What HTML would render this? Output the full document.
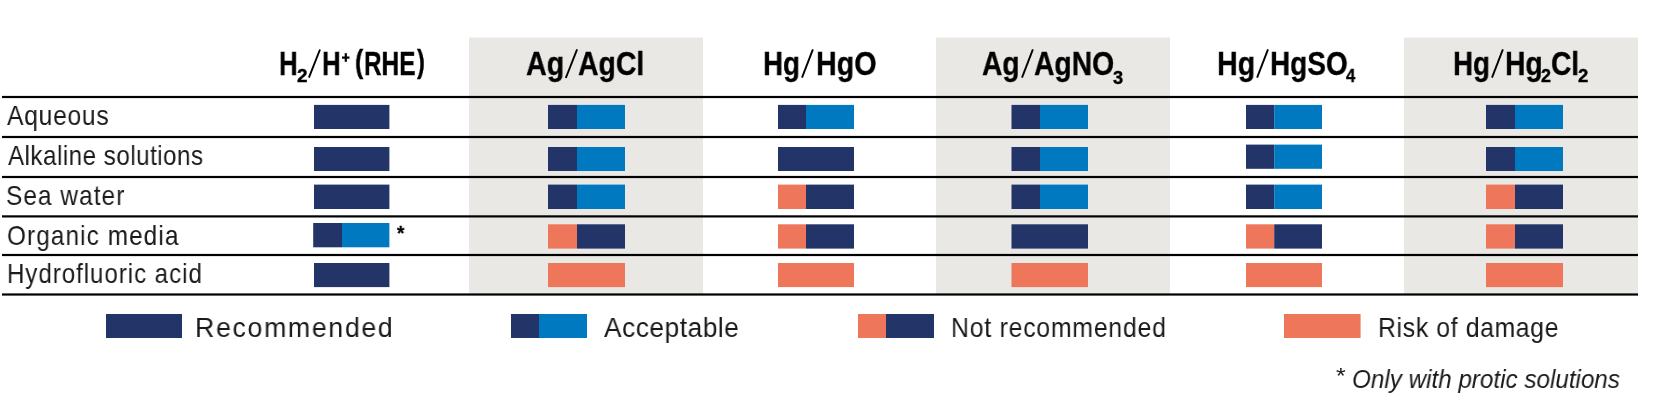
<!DOCTYPE html>
<html><head><meta charset="utf-8"><style>
html,body{margin:0;padding:0;background:#fff;width:1655px;height:402px;overflow:hidden;position:relative}
.r{position:absolute}
.ov{position:absolute;left:0;top:0}
.t{position:absolute;will-change:transform;line-height:0;white-space:nowrap;font-family:"Liberation Sans",sans-serif;color:#000;transform-origin:0 0}
</style></head><body>
<svg class="ov" width="1655" height="402" viewBox="0 0 1655 402"><rect x="469" y="37.6" width="234.00" height="256.40" fill="#e9e8e4"/><rect x="936" y="37.6" width="234.00" height="256.40" fill="#e9e8e4"/><rect x="1404" y="37.6" width="234.00" height="256.40" fill="#e9e8e4"/><rect x="2" y="95.9" width="1636.00" height="2.20" fill="#000"/><rect x="2" y="135.9" width="1636.00" height="2.20" fill="#000"/><rect x="2" y="175.9" width="1636.00" height="2.20" fill="#000"/><rect x="2" y="215.3" width="1636.00" height="2.20" fill="#000"/><rect x="2" y="253.9" width="1636.00" height="2.20" fill="#000"/><rect x="2" y="293.4" width="1636.00" height="2.20" fill="#000"/><rect x="314" y="104.9" width="75.40" height="24.10" fill="#233468"/><rect x="314" y="147" width="75.40" height="24.00" fill="#233468"/><rect x="314" y="184.6" width="75.40" height="24.40" fill="#233468"/><rect x="313.2" y="223.0" width="28.80" height="24.30" fill="#233468"/><rect x="342" y="223.0" width="47.40" height="24.30" fill="#0079c1"/><rect x="314" y="263" width="75.40" height="24.10" fill="#233468"/><rect x="548" y="104.9" width="29.00" height="24.10" fill="#233468"/><rect x="577" y="104.9" width="48.00" height="24.10" fill="#0079c1"/><rect x="548" y="147" width="29.00" height="24.00" fill="#233468"/><rect x="577" y="147" width="48.00" height="24.00" fill="#0079c1"/><rect x="548" y="184.6" width="29.00" height="24.40" fill="#233468"/><rect x="577" y="184.6" width="48.00" height="24.40" fill="#0079c1"/><rect x="548" y="224.3" width="29.00" height="24.30" fill="#ee775b"/><rect x="577" y="224.3" width="48.00" height="24.30" fill="#233468"/><rect x="548" y="263" width="77.00" height="24.10" fill="#ee775b"/><rect x="778" y="104.9" width="28.00" height="24.10" fill="#233468"/><rect x="806" y="104.9" width="48.00" height="24.10" fill="#0079c1"/><rect x="778" y="147" width="76.00" height="24.00" fill="#233468"/><rect x="778" y="184.6" width="28.00" height="24.40" fill="#ee775b"/><rect x="806" y="184.6" width="48.00" height="24.40" fill="#233468"/><rect x="778" y="224.3" width="28.00" height="24.30" fill="#ee775b"/><rect x="806" y="224.3" width="48.00" height="24.30" fill="#233468"/><rect x="778" y="263" width="76.00" height="24.10" fill="#ee775b"/><rect x="1011.5" y="104.9" width="28.50" height="24.10" fill="#233468"/><rect x="1040" y="104.9" width="48.00" height="24.10" fill="#0079c1"/><rect x="1011.5" y="147" width="28.50" height="24.00" fill="#233468"/><rect x="1040" y="147" width="48.00" height="24.00" fill="#0079c1"/><rect x="1011.5" y="184.6" width="28.50" height="24.40" fill="#233468"/><rect x="1040" y="184.6" width="48.00" height="24.40" fill="#0079c1"/><rect x="1011.5" y="224.3" width="76.50" height="24.30" fill="#233468"/><rect x="1011.5" y="263" width="76.50" height="24.10" fill="#ee775b"/><rect x="1246" y="104.9" width="28.20" height="24.10" fill="#233468"/><rect x="1274.2" y="104.9" width="47.80" height="24.10" fill="#0079c1"/><rect x="1246" y="144.6" width="28.20" height="24.20" fill="#233468"/><rect x="1274.2" y="144.6" width="47.80" height="24.20" fill="#0079c1"/><rect x="1246" y="184.6" width="28.20" height="24.40" fill="#233468"/><rect x="1274.2" y="184.6" width="47.80" height="24.40" fill="#0079c1"/><rect x="1246" y="224.3" width="28.20" height="24.30" fill="#ee775b"/><rect x="1274.2" y="224.3" width="47.80" height="24.30" fill="#233468"/><rect x="1246" y="263" width="76.00" height="24.10" fill="#ee775b"/><rect x="1486" y="104.9" width="29.00" height="24.10" fill="#233468"/><rect x="1515" y="104.9" width="48.00" height="24.10" fill="#0079c1"/><rect x="1486" y="147" width="29.00" height="24.00" fill="#233468"/><rect x="1515" y="147" width="48.00" height="24.00" fill="#0079c1"/><rect x="1486" y="184.6" width="29.00" height="24.40" fill="#ee775b"/><rect x="1515" y="184.6" width="48.00" height="24.40" fill="#233468"/><rect x="1486" y="224.3" width="29.00" height="24.30" fill="#ee775b"/><rect x="1515" y="224.3" width="48.00" height="24.30" fill="#233468"/><rect x="1486" y="263" width="77.00" height="24.10" fill="#ee775b"/><rect x="106" y="314" width="76.00" height="24.00" fill="#233468"/><rect x="511" y="314" width="28.00" height="24.00" fill="#233468"/><rect x="539" y="314" width="48.00" height="24.00" fill="#0079c1"/><rect x="858" y="314" width="28.00" height="24.00" fill="#ee775b"/><rect x="886" y="314" width="48.00" height="24.00" fill="#233468"/><rect x="1284" y="314" width="76.60" height="24.00" fill="#ee775b"/></svg><div class="t" style="left:7.20px;top:115.10px;font-size:28.4px;font-weight:400;font-style:normal;color:#1a1a1a;letter-spacing:0.791px;transform:scaleX(0.8700)">Aqueous</div><div class="t" style="left:7.50px;top:155.80px;font-size:28.1px;font-weight:400;font-style:normal;color:#1a1a1a;letter-spacing:0.570px;transform:scaleX(0.8600)">Alkaline solutions</div><div class="t" style="left:6.14px;top:195.80px;font-size:27.8px;font-weight:400;font-style:normal;color:#1a1a1a;letter-spacing:1.159px;transform:scaleX(0.8800)">Sea water</div><div class="t" style="left:6.72px;top:235.80px;font-size:27.6px;font-weight:400;font-style:normal;color:#1a1a1a;letter-spacing:1.275px;transform:scaleX(0.8800)">Organic media</div><div class="t" style="left:6.94px;top:273.90px;font-size:27.4px;font-weight:400;font-style:normal;color:#1a1a1a;letter-spacing:1.087px;transform:scaleX(0.8800)">Hydrofluoric acid</div><div class="t" style="left:279.13px;top:64.00px;font-size:33.0px;font-weight:700;font-style:normal;-webkit-text-stroke:0.35px #000;letter-spacing:0.000px;transform:scaleX(0.7850)">H</div><div class="t" style="left:297.15px;top:75.90px;font-size:18.1px;font-weight:700;font-style:normal;-webkit-text-stroke:0.35px #000;letter-spacing:0.000px;transform:scaleX(1.0500)">2</div><div class="t" style="left:321.93px;top:64.00px;font-size:33.0px;font-weight:700;font-style:normal;-webkit-text-stroke:0.35px #000;letter-spacing:0.000px;transform:scaleX(0.7850)">H</div><div class="t" style="left:354.80px;top:62.20px;font-size:31.0px;font-weight:700;font-style:normal;-webkit-text-stroke:0.35px #000;letter-spacing:0.000px;transform:scaleX(0.8000)">(</div><div class="t" style="left:364.32px;top:64.00px;font-size:33.0px;font-weight:700;font-style:normal;-webkit-text-stroke:0.35px #000;letter-spacing:0.000px;transform:scaleX(0.7388)">RHE</div><div class="t" style="left:416.60px;top:62.20px;font-size:31.0px;font-weight:700;font-style:normal;-webkit-text-stroke:0.35px #000;letter-spacing:0.000px;transform:scaleX(0.7556)">)</div><div class="t" style="left:526.23px;top:64.00px;font-size:33.0px;font-weight:700;font-style:normal;-webkit-text-stroke:0.35px #000;letter-spacing:0.000px;transform:scaleX(0.8707)">Ag</div><div class="t" style="left:578.14px;top:64.00px;font-size:33.0px;font-weight:700;font-style:normal;-webkit-text-stroke:0.35px #000;letter-spacing:0.000px;transform:scaleX(0.8608)">AgCl</div><div class="t" style="left:762.82px;top:64.00px;font-size:33.0px;font-weight:700;font-style:normal;-webkit-text-stroke:0.35px #000;letter-spacing:0.000px;transform:scaleX(0.8425)">Hg</div><div class="t" style="left:815.56px;top:64.00px;font-size:33.0px;font-weight:700;font-style:normal;-webkit-text-stroke:0.35px #000;letter-spacing:0.000px;transform:scaleX(0.8697)">HgO</div><div class="t" style="left:982.35px;top:64.00px;font-size:33.0px;font-weight:700;font-style:normal;-webkit-text-stroke:0.35px #000;letter-spacing:0.000px;transform:scaleX(0.8537)">Ag</div><div class="t" style="left:1034.34px;top:64.00px;font-size:33.0px;font-weight:700;font-style:normal;-webkit-text-stroke:0.35px #000;letter-spacing:0.000px;transform:scaleX(0.8571)">AgNO</div><div class="t" style="left:1113.49px;top:77.90px;font-size:18.0px;font-weight:700;font-style:normal;-webkit-text-stroke:0.35px #000;letter-spacing:0.000px;transform:scaleX(1.0125)">3</div><div class="t" style="left:1216.76px;top:64.00px;font-size:33.0px;font-weight:700;font-style:normal;-webkit-text-stroke:0.35px #000;letter-spacing:0.000px;transform:scaleX(0.8700)">Hg</div><div class="t" style="left:1269.60px;top:64.00px;font-size:33.0px;font-weight:700;font-style:normal;-webkit-text-stroke:0.35px #000;letter-spacing:0.000px;transform:scaleX(0.8477)">HgSO</div><div class="t" style="left:1346.40px;top:76.10px;font-size:18.4px;font-weight:700;font-style:normal;-webkit-text-stroke:0.35px #000;letter-spacing:0.000px;transform:scaleX(0.9100)">4</div><div class="t" style="left:1452.82px;top:64.00px;font-size:33.0px;font-weight:700;font-style:normal;-webkit-text-stroke:0.35px #000;letter-spacing:0.000px;transform:scaleX(0.8425)">Hg</div><div class="t" style="left:1504.59px;top:64.00px;font-size:33.0px;font-weight:700;font-style:normal;-webkit-text-stroke:0.35px #000;letter-spacing:0.000px;transform:scaleX(0.8575)">Hg</div><div class="t" style="left:1541.41px;top:75.90px;font-size:18.1px;font-weight:700;font-style:normal;-webkit-text-stroke:0.35px #000;letter-spacing:0.000px;transform:scaleX(0.9875)">2</div><div class="t" style="left:1551.25px;top:64.00px;font-size:33.0px;font-weight:700;font-style:normal;-webkit-text-stroke:0.35px #000;letter-spacing:0.000px;transform:scaleX(0.8533)">Cl</div><div class="t" style="left:1577.88px;top:75.90px;font-size:18.1px;font-weight:700;font-style:normal;-webkit-text-stroke:0.35px #000;letter-spacing:0.000px;transform:scaleX(1.0250)">2</div><div class="t" style="left:194.64px;top:328.00px;font-size:27.3px;font-weight:400;font-style:normal;color:#1a1a1a;letter-spacing:1.665px;transform:scaleX(0.9800)">Recommended</div><div class="t" style="left:604.20px;top:327.90px;font-size:27.7px;font-weight:400;font-style:normal;color:#1a1a1a;letter-spacing:0.550px;transform:scaleX(0.9500)">Acceptable</div><div class="t" style="left:950.80px;top:327.80px;font-size:27.6px;font-weight:400;font-style:normal;color:#1a1a1a;letter-spacing:0.841px;transform:scaleX(0.9000)">Not recommended</div><div class="t" style="left:1377.90px;top:327.90px;font-size:27.6px;font-weight:400;font-style:normal;color:#1a1a1a;letter-spacing:0.675px;transform:scaleX(0.9000)">Risk of damage</div><div class="t" style="left:1351.77px;top:378.80px;font-size:26.0px;font-weight:400;font-style:italic;color:#1a1a1a;letter-spacing:0.000px;transform:scaleX(0.9318)">Only with protic solutions</div><div class="t" style="left:1335.97px;top:375.90px;font-size:22.0px;font-weight:400;font-style:normal;color:#1a1a1a;letter-spacing:0.000px;transform:scaleX(1.1286)">*</div><div class="t" style="left:397.00px;top:233.00px;font-size:20.0px;font-weight:700;font-style:normal;-webkit-text-stroke:0.35px #000;letter-spacing:0.000px;transform:scaleX(0.9375)">*</div><svg class="ov" width="1655" height="402" viewBox="0 0 1655 402"><line x1="308.90" y1="77.60" x2="320.00" y2="49.50" stroke="#000" stroke-width="1.9"/><line x1="565.80" y1="78.00" x2="577.10" y2="49.30" stroke="#000" stroke-width="1.9"/><line x1="802.00" y1="77.60" x2="812.90" y2="49.30" stroke="#000" stroke-width="1.9"/><line x1="1022.00" y1="77.60" x2="1032.90" y2="49.30" stroke="#000" stroke-width="1.9"/><line x1="1257.10" y1="77.60" x2="1268.00" y2="49.30" stroke="#000" stroke-width="1.9"/><line x1="1492.00" y1="77.60" x2="1502.90" y2="49.30" stroke="#000" stroke-width="1.9"/><rect x="342" y="56.5" width="7.5" height="2.2" fill="#000"/><rect x="344.7" y="53.2" width="2.2" height="8.6" fill="#000"/></svg>
</body></html>
